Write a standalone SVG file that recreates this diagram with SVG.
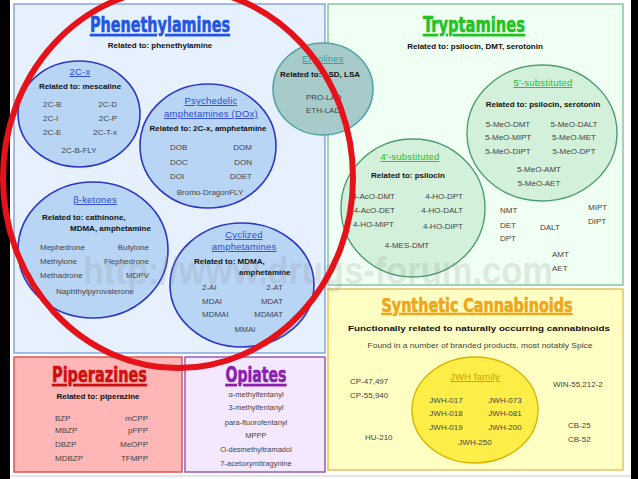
<svg xmlns="http://www.w3.org/2000/svg" width="638" height="479" viewBox="0 0 638 479">
<style>
text{font-family:"Liberation Sans",Arial,sans-serif}
.ttl{font-family:"Liberation Sans Narrow","DejaVu Sans Condensed","Liberation Sans",sans-serif;font-weight:bold;text-anchor:middle;text-decoration:underline;stroke-width:0.6}
.rel{font-size:8px;font-weight:bold;fill:#111}
.it{font-size:8px;fill:#444}
.op{font-size:7.5px;fill:#444;text-anchor:middle}
.m{text-anchor:middle}
.e{text-anchor:end}
.sb{font-size:9.5px;text-anchor:middle;text-decoration:underline;letter-spacing:0.2px}
.blue{fill:#2a4bd7}
.green{fill:#22c322}
.bc{fill:#b9d5f6;stroke:#2b36c8;stroke-width:1.6}
.gc{fill:#d3f1da;stroke:#4f9e72;stroke-width:1.4}
</style>
<rect x="0" y="0" width="638" height="479" fill="#ffffff"/>
<rect x="0" y="0" width="10" height="479" fill="#000"/>
<rect x="631" y="0" width="7" height="479" fill="#000"/>
<line x1="10" y1="476" x2="631" y2="476" stroke="#cccccc" stroke-width="1"/>

<g id="phenethylamines">
<rect x="14" y="4" width="311" height="349" fill="#e7f1fd" stroke="#86a6e2" stroke-width="1.5"/>
<text class="ttl" x="160" y="32" font-size="21" textLength="140" lengthAdjust="spacingAndGlyphs" fill="#2256e0" stroke="#2256e0">Phenethylamines</text>
<text class="rel m" x="160" y="48" font-size="8.5">Related to: phenethylamine</text>
</g>

<g id="tryptamines">
<rect x="328" y="4" width="295" height="281" fill="#f0fff3" stroke="#86c8a0" stroke-width="1.5"/>
<text class="ttl" x="474" y="32" font-size="21" textLength="102" lengthAdjust="spacingAndGlyphs" fill="#22c322" stroke="#22c322">Tryptamines</text>
<text class="rel m" x="475" y="49" font-size="9">Related to: psilocin, DMT, serotonin</text>
<text class="it" x="500" y="213">NMT</text>
<text class="it" x="500" y="228">DET</text>
<text class="it" x="500" y="241">DPT</text>
<text class="it" x="540" y="230">DALT</text>
<text class="it" x="588" y="210">MIPT</text>
<text class="it" x="588" y="224">DIPT</text>
<text class="it" x="552" y="257">AMT</text>
<text class="it" x="552" y="271">AET</text>
</g>

<g id="cannabinoids">
<rect x="328" y="289" width="295" height="181" fill="#ffffc4" stroke="#e6c45c" stroke-width="1.5"/>
<text class="ttl" x="477" y="312" font-size="19" textLength="191" lengthAdjust="spacingAndGlyphs" fill="#eea61a" stroke="#eea61a">Synthetic Cannabinoids</text>
<text class="rel m" x="479" y="331" font-size="9.5" textLength="262" lengthAdjust="spacingAndGlyphs">Functionally related to naturally occurring cannabinoids</text>
<text class="it m" x="480" y="348" textLength="225" lengthAdjust="spacingAndGlyphs">Found in a number of branded products, most notably Spice</text>
<text class="it" x="350" y="384">CP-47,497</text>
<text class="it" x="350" y="398">CP-55,940</text>
<text class="it" x="365" y="440">HU-210</text>
<text class="it" x="553" y="387">WIN-55,212-2</text>
<text class="it" x="568" y="428">CB-25</text>
<text class="it" x="568" y="442">CB-52</text>
</g>

<g id="piperazines">
<rect x="14" y="357" width="168" height="115" fill="#ffb6b6" stroke="#e05454" stroke-width="1.5"/>
<text class="ttl" x="99.5" y="382" font-size="21" textLength="95" lengthAdjust="spacingAndGlyphs" fill="#cc1010" stroke="#cc1010">Piperazines</text>
<text class="rel m" x="98" y="399" font-size="8.5">Related to: piperazine</text>
<text class="it" x="55" y="421">BZP</text>
<text class="it" x="55" y="433">MBZP</text>
<text class="it" x="55" y="447">DBZP</text>
<text class="it" x="55" y="461">MDBZP</text>
<text class="it e" x="148" y="421">mCPP</text>
<text class="it e" x="148" y="433">pFPP</text>
<text class="it e" x="148" y="447">MeOPP</text>
<text class="it e" x="148" y="461">TFMPP</text>
</g>

<g id="opiates">
<rect x="185" y="357" width="140" height="115" fill="#f4e8ff" stroke="#9a5ab4" stroke-width="1.5"/>
<text class="ttl" x="256" y="382" font-size="21" textLength="61" lengthAdjust="spacingAndGlyphs" fill="#8a1fb0" stroke="#8a1fb0">Opiates</text>
<text class="op" x="256" y="397">α-methylfentanyl</text>
<text class="op" x="256" y="410">3-methylfentanyl</text>
<text class="op" x="256" y="425">para-fluorofentanyl</text>
<text class="op" x="256" y="438">MPPP</text>
<text class="op" x="256" y="452">O-desmethyltramadol</text>
<text class="op" x="256" y="466">7-acetoxymitragynine</text>
</g>

<g id="c2cx">
<ellipse class="bc" cx="79" cy="114" rx="61" ry="53"/>
<text class="sb blue" x="80" y="75">2C-x</text>
<text class="rel m" x="80" y="89">Related to: mescaline</text>
<text class="it" x="43" y="107">2C-B</text>
<text class="it" x="43" y="121">2C-I</text>
<text class="it" x="43" y="135">2C-E</text>
<text class="it e" x="117" y="107">2C-D</text>
<text class="it e" x="117" y="121">2C-P</text>
<text class="it e" x="117" y="135">2C-T-x</text>
<text class="it m" x="79" y="153">2C-B-FLY</text>
</g>

<g id="dox">
<ellipse class="bc" cx="208" cy="146" rx="68" ry="62"/>
<text class="sb blue" x="211" y="104">Psychedelic</text>
<text class="sb blue" x="211" y="117">amphetamines (DOx)</text>
<text class="rel m" x="208" y="131">Related to: 2C-x, amphetamine</text>
<text class="it" x="170" y="150">DOB</text>
<text class="it" x="170" y="165">DOC</text>
<text class="it" x="170" y="179">DOI</text>
<text class="it e" x="252" y="150">DOM</text>
<text class="it e" x="252" y="165">DON</text>
<text class="it e" x="252" y="179">DOET</text>
<text class="it m" x="210" y="195">Bromo-DragonFLY</text>
</g>

<g id="bketones">
<ellipse class="bc" cx="93" cy="250" rx="75" ry="68"/>
<text class="sb blue" x="95" y="203">β-ketones</text>
<text class="rel" x="42" y="220">Related to: cathinone,</text>
<text class="rel" x="70" y="231">MDMA, amphetamine</text>
<text class="it" x="40" y="250">Mephedrone</text>
<text class="it" x="40" y="264">Methylone</text>
<text class="it" x="40" y="278">Methadrone</text>
<text class="it e" x="149" y="250">Butylone</text>
<text class="it e" x="149" y="264">Flephedrone</text>
<text class="it e" x="149" y="278">MDPV</text>
<text class="it m" x="95" y="294">Naphthylpyrovalerone</text>
</g>

<g id="cyclized">
<ellipse class="bc" cx="242" cy="285" rx="72" ry="62"/>
<text class="sb blue" x="244" y="238">Cyclized</text>
<text class="sb blue" x="244" y="250">amphetamines</text>
<text class="rel" x="194" y="264">Related to: MDMA,</text>
<text class="rel" x="239" y="275">amphetamine</text>
<text class="it" x="202" y="290">2-AI</text>
<text class="it" x="202" y="304">MDAI</text>
<text class="it" x="202" y="317">MDMAI</text>
<text class="it e" x="283" y="290">2-AT</text>
<text class="it e" x="283" y="304">MDAT</text>
<text class="it e" x="283" y="317">MDMAT</text>
<text class="it m" x="245" y="332">MMAI</text>
</g>

<g id="ergolines">
<ellipse cx="323" cy="89" rx="50" ry="46" fill="#a7cbcb" stroke="#55a3a3" stroke-width="1.6"/>
<text class="sb" x="323" y="62" fill="#3a9a9a">Ergolines</text>
<text class="rel m" x="320" y="77">Related to: LSD, LSA</text>
<text class="it" x="306" y="100">PRO-LAD</text>
<text class="it" x="306" y="113">ETH-LAD</text>
</g>

<g id="sub5">
<ellipse class="gc" cx="542" cy="133" rx="75" ry="68"/>
<text class="sb green" x="543" y="86">5'-substituted</text>
<text class="rel m" x="543" y="107">Related to: psilocin, serotonin</text>
<text class="it m" x="508" y="127">5-MeO-DMT</text>
<text class="it m" x="508" y="140">5-MeO-MIPT</text>
<text class="it m" x="508" y="154">5-MeO-DIPT</text>
<text class="it m" x="574" y="127">5-MeO-DALT</text>
<text class="it m" x="574" y="140">5-MeO-MET</text>
<text class="it m" x="574" y="154">5-MeO-DPT</text>
<text class="it m" x="539" y="172">5-MeO-AMT</text>
<text class="it m" x="539" y="186">5-MeO-AET</text>
</g>

<g id="sub4">
<ellipse class="gc" cx="413" cy="208" rx="72" ry="69"/>
<text class="sb green" x="410" y="160">4'-substituted</text>
<text class="rel m" x="408" y="178">Related to: psilocin</text>
<text class="it e" x="395" y="199">4-AcO-DMT</text>
<text class="it e" x="395" y="213">4-AcO-DET</text>
<text class="it e" x="394" y="227">4-HO-MIPT</text>
<text class="it e" x="463" y="199">4-HO-DPT</text>
<text class="it e" x="463" y="213">4-HO-DALT</text>
<text class="it e" x="463" y="229">4-HO-DIPT</text>
<text class="it m" x="407" y="248">4-MES-DMT</text>
</g>

<g id="jwh">
<ellipse cx="475" cy="410" rx="63" ry="53" fill="#ffee48" stroke="#d8b400" stroke-width="1.4"/>
<text class="sb" x="475" y="380" fill="#c9a100">JWH family</text>
<text class="it m" x="446" y="403">JWH-017</text>
<text class="it m" x="446" y="416">JWH-018</text>
<text class="it m" x="446" y="430">JWH-019</text>
<text class="it m" x="505" y="403">JWH-073</text>
<text class="it m" x="505" y="416">JWH-081</text>
<text class="it m" x="505" y="430">JWH-200</text>
<text class="it m" x="475" y="445">JWH-250</text>
</g>

<text x="318" y="284" text-anchor="middle" font-size="38" font-weight="bold" fill="#8a8a8a" fill-opacity="0.2" textLength="470" lengthAdjust="spacingAndGlyphs">http://www.drugs-forum.com</text>

<ellipse cx="178" cy="178" rx="175" ry="190" fill="none" stroke="#e5121a" stroke-width="6"/>
</svg>
